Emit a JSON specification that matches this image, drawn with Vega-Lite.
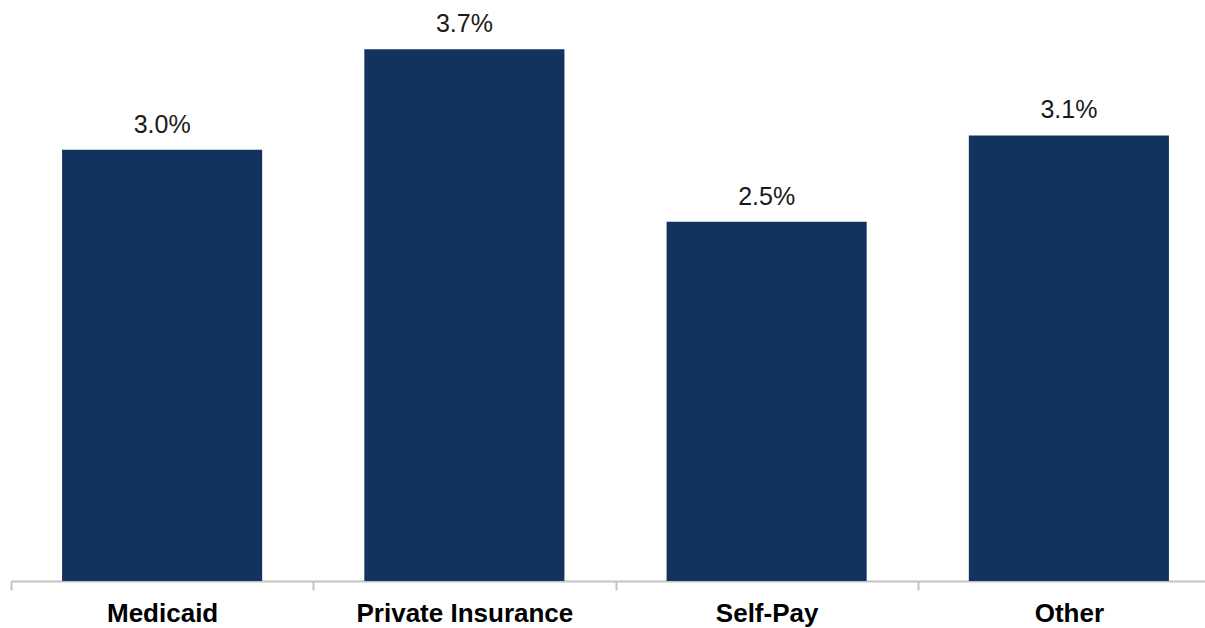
{
  "$schema": "https://vega.github.io/schema/vega-lite/v6.json",
  "autosize": {"type": "none"},
  "padding": {"left": 11, "top": 6, "right": 0, "bottom": 47},
  "width": 1209,
  "height": 575,
  "background": "white",
  "config": {"view": {"stroke": null}, "font": "Liberation Sans"},
  "data": {"values": [
    {"payer": "Medicaid", "rate": 0.030},
    {"payer": "Private Insurance", "rate": 0.037},
    {"payer": "Self-Pay", "rate": 0.025},
    {"payer": "Other", "rate": 0.031}
  ]},
  "encoding": {
    "x": {"field": "payer", "type": "nominal", "sort": null,
      "scale": {"paddingInner": 0, "paddingOuter": 0},
      "axis": {"title": null, "labelAngle": 0, "labelLimit": 0, "labelFont": "Liberation Sans", "labelFontSize": 26, "labelFontWeight": "bold", "labelColor": "#000000", "labelPadding": 10,
        "domainColor": "#c4c4c4", "domainWidth": 2, "tickColor": "#c4c4c4", "tickWidth": 2, "tickSize": 9, "tickBand": "extent"}},
    "y": {"field": "rate", "type": "quantitative", "scale": {"domain": [0, 0.04]}, "axis": null}
  },
  "layer": [
    {"mark": {"type": "bar", "color": "#11335e", "width": {"band": 0.662}}},
    {"mark": {"type": "text", "baseline": "middle", "dy": -25, "fontSize": 25, "color": "#1a1a1a", "font": "Liberation Sans"},
     "encoding": {"text": {"field": "rate", "type": "quantitative", "format": ".1%"}}}
  ]
}
